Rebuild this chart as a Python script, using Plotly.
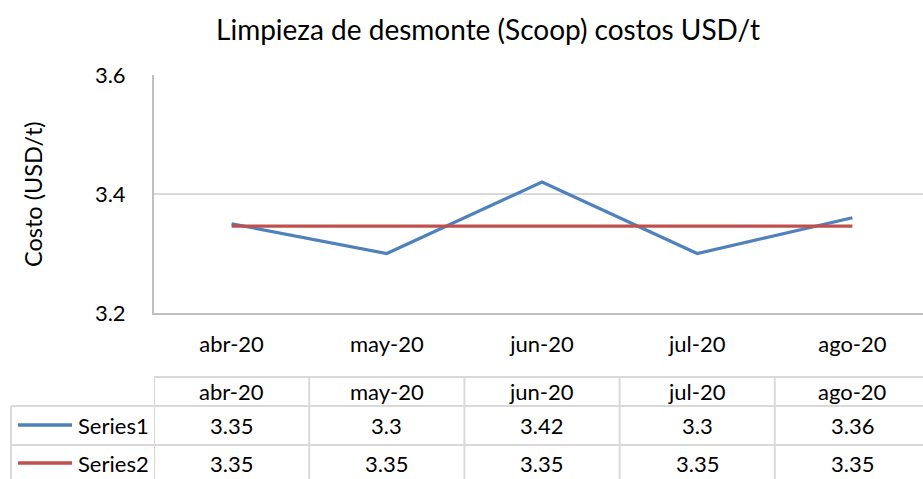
import plotly.graph_objects as go

categories = ["abr-20", "may-20", "jun-20", "jul-20", "ago-20"]
series1 = [3.35, 3.30, 3.42, 3.30, 3.36]
series2 = [3.346, 3.346, 3.346, 3.346, 3.346]
series1_labels = ["3.35", "3.3", "3.42", "3.3", "3.36"]
series2_labels = ["3.35", "3.35", "3.35", "3.35", "3.35"]
series_names = ["Series1", "Series2"]
colors = ["#4f81bd", "#c0504d"]

FONT = "Lato, 'Open Sans', sans-serif"
W, H = 923, 479
L, R, T, B = 154, 0, 75, 166
PW = W - L - R
PH = H - T - B
xs = list(range(len(categories)))

def py(p):  # pixel y -> paper y
    return (H - B - p) / PH

def px(p):  # pixel x -> paper x
    return (p - L) / PW

fig = go.Figure()
for name, vals, col in zip(series_names, [series1, series2], colors):
    fig.add_trace(go.Scatter(x=xs, y=vals, mode="lines", name=name,
                             line=dict(color=col, width=3.2), showlegend=False,
                             hoverinfo="skip"))

shapes = []
grid = "#d9d9d9"
# table horizontal lines
shapes.append(dict(type="line", xref="paper", yref="paper", x0=0, x1=px(W + 5),
                   y0=py(377), y1=py(377), line=dict(color=grid, width=2)))
for p in [406, 445]:
    shapes.append(dict(type="line", xref="paper", yref="paper", x0=px(11), x1=px(W + 5),
                       y0=py(p), y1=py(p), line=dict(color=grid, width=2)))
# table vertical lines
shapes.append(dict(type="line", xref="paper", yref="paper", x0=px(11), x1=px(11),
                   y0=py(406), y1=py(485), line=dict(color=grid, width=2)))
for i in range(len(categories)):
    xv = i - 0.5
    shapes.append(dict(type="line", xref="x", yref="paper", x0=xv, x1=xv,
                       y0=py(377), y1=py(485), line=dict(color=grid, width=2)))
# legend keys in table
for j, col in enumerate(colors):
    yc = py(425 + 38 * j)
    shapes.append(dict(type="line", xref="paper", yref="paper", x0=px(18), x1=px(72),
                       y0=yc, y1=yc, line=dict(color=col, width=3.5)))

ann = []
tf = dict(family=FONT, size=22, color="#000000")
for i, c in enumerate(categories):
    ann.append(dict(x=i, y=py(391), xref="x", yref="paper", text=c, showarrow=False,
                    font=tf, xanchor="center", yanchor="middle"))
    ann.append(dict(x=i, y=py(425), xref="x", yref="paper", text=series1_labels[i],
                    showarrow=False, font=tf, xanchor="center", yanchor="middle"))
    ann.append(dict(x=i, y=py(463), xref="x", yref="paper", text=series2_labels[i],
                    showarrow=False, font=tf, xanchor="center", yanchor="middle"))
for j, n in enumerate(series_names):
    ann.append(dict(x=px(76), y=py(425 + 38 * j), xref="paper", yref="paper", text=n,
                    showarrow=False, font=tf, xanchor="left", yanchor="middle"))
# y axis title
ann.append(dict(x=px(33), y=py(194), xref="paper", yref="paper", text="Costo (USD/t)",
                showarrow=False, textangle=-90, xanchor="center", yanchor="middle",
                font=dict(family=FONT, size=23.5, color="#000000")))

fig.update_layout(
    width=W, height=H,
    margin=dict(l=L, r=R, t=T, b=B, pad=0),
    paper_bgcolor="white", plot_bgcolor="white",
    title=dict(text="Limpieza de desmonte (Scoop) costos USD/t", x=px(488), xanchor="center",
               xref="paper", y=1 - 30 / H, yanchor="middle",
               font=dict(family=FONT, size=28, color="#000000")),
    xaxis=dict(range=[-0.5, 4.455], tickmode="array", tickvals=xs, ticktext=categories,
               showgrid=False, zeroline=False, showline=True, linecolor="#bfbfbf",
               linewidth=2, ticks="", tickfont=dict(family=FONT, size=22, color="#000"),
               ticklabelstandoff=11),
    yaxis=dict(range=[3.2, 3.6], tickvals=[3.2, 3.4, 3.6], ticktext=["3.2", "3.4", "3.6"],
               showgrid=True, gridcolor=grid, gridwidth=1.5, zeroline=False,
               showline=True, linecolor="#bfbfbf", linewidth=2, ticks="",
               tickfont=dict(family=FONT, size=22, color="#000"), ticklabelstandoff=22),
    shapes=shapes, annotations=ann,
)
fig.write_html("out.html", config={"displayModeBar": False},
               post_script="document.body.style.margin='0';document.body.style.overflow='hidden';")
